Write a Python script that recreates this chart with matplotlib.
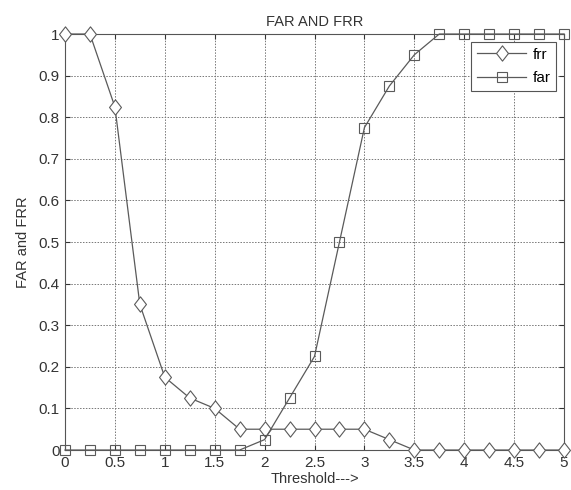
import matplotlib
matplotlib.use("Agg")
import matplotlib.pyplot as plt
from matplotlib.path import Path

threshold = [0, 0.25, 0.5, 0.75, 1, 1.25, 1.5, 1.75, 2, 2.25, 2.5, 2.75, 3, 3.25, 3.5, 3.75, 4, 4.25, 4.5, 4.75, 5]
frr = [1, 1, 0.825, 0.35, 0.175, 0.125, 0.1, 0.05, 0.05, 0.05, 0.05, 0.05, 0.05, 0.025, 0, 0, 0, 0, 0, 0, 0]
far = [0, 0, 0, 0, 0, 0, 0, 0, 0.025, 0.125, 0.225, 0.5, 0.775, 0.875, 0.95, 1, 1, 1, 1, 1, 1]
xticks = [0, 0.5, 1, 1.5, 2, 2.5, 3, 3.5, 4, 4.5, 5]
yticks = [0, 0.1, 0.2, 0.3, 0.4, 0.5, 0.6, 0.7, 0.8, 0.9, 1]

plt.rcParams['font.family'] = ['Liberation Sans', 'DejaVu Sans']
col = '#5a5a5a'
diamond = Path([(0, 1), (0.78, 0), (0, -1), (-0.78, 0), (0, 1)],
               [Path.MOVETO, Path.LINETO, Path.LINETO, Path.LINETO, Path.CLOSEPOLY])
fig = plt.figure(figsize=(5.71, 4.9), dpi=100)
ax = fig.add_axes([0.1138, 0.0816, 0.874, 0.849])
ax.plot(threshold, frr, color=col, lw=0.9, marker=diamond, ms=11, mfc='white', mec=col, mew=0.8, label='frr', clip_on=False, zorder=3)
ax.plot(threshold, far, color=col, lw=0.9, marker='s', ms=7.5, mfc='none', mec=col, mew=0.8, label='far', clip_on=False, zorder=3)
ax.set_xlim(0, 5)
ax.set_ylim(0, 1)
ax.set_xticks(xticks)
ax.set_xticklabels([f"{t:g}" for t in xticks])
ax.set_yticks(yticks)
ax.set_yticklabels([f"{t:g}" for t in yticks])
ax.grid(True, linestyle=(0, (1.5, 1.5)), color='#777777', lw=0.7)
ax.tick_params(direction='in', labelsize=11, colors='#333333', pad=4, top=True, right=True)
for s in ax.spines.values():
    s.set_color('#555555')
    s.set_linewidth(0.8)
ax.set_title('FAR AND FRR', fontsize=10.5, color='#333333', pad=6)
ax.set_xlabel('Threshold--->', fontsize=10.5, color='#333333', labelpad=2)
ax.set_ylabel('FAR and FRR', fontsize=10.5, color='#333333', labelpad=6)
leg = ax.legend(loc='upper right', fontsize=11, fancybox=False, edgecolor='#555555', framealpha=1,
                handlelength=3.2, borderaxespad=0.5, labelspacing=0.6, handletextpad=0.4)
leg.get_frame().set_linewidth(0.8)
fig.savefig('out.png', dpi=100)
